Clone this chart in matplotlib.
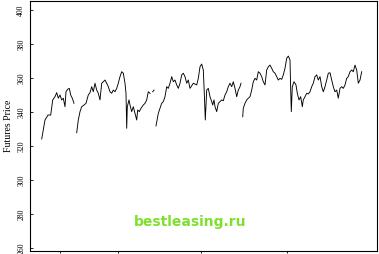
import numpy as np
import matplotlib
matplotlib.use("Agg")
import matplotlib.pyplot as plt

# Trading-day positions and futures prices, one list per contract segment
seg1_x = [41.7, 45, 48, 50.7, 52.7, 55, 56.7, 58.3, 60, 61.7, 63.3, 65, 66, 67.7, 69.3, 70.7, 72.3, 74]
seg1_y = [324.1, 335.3, 338.2, 338.2, 347.1, 349.0, 351.4, 348.1, 350.0, 347.1, 348.1, 343.1, 351.9,
          353.4, 353.9, 350.0, 348.1, 345.1]

seg2_x = [76.7, 78.3, 80, 81.7, 84, 86, 88.3, 90, 91.7, 93.3, 95, 96.7, 98.3, 100, 101.7, 103.3, 105,
          106.7, 108.3, 110, 111.7, 113.3, 115, 116.7, 118.3, 120, 121.7, 123.3, 125, 126, 126.7, 127.3,
          129, 130, 131.7, 133.3, 135, 136.7, 137.7, 139.3, 141, 143.3, 145, 146.7, 148.3, 150]
seg2_y = [327.8, 335.3, 340.2, 343.1, 344.1, 345.1, 350.0, 351.4, 354.9, 351.9, 356.9, 352.9, 351.0,
          347.1, 356.9, 357.8, 358.8, 356.9, 354.9, 351.9, 351.0, 352.9, 351.9, 353.9, 356.9, 360.8,
          363.7, 362.8, 356.9, 351.0, 330.4, 343.1, 347.1, 344.1, 340.2, 343.1, 339.2, 335.3, 341.2,
          340.2, 342.2, 344.1, 345.1, 347.1, 351.9, 351.0]

seg2b_x = [152.7, 154]
seg2b_y = [351.9, 352.9]

seg3_x = [156, 158.3, 160, 161.7, 163.3, 165, 166.7, 168.3, 170, 171.7, 173.3, 175, 176.7, 178.3, 180,
          181.7, 183.3, 185, 186.7, 188.3, 190, 193.3, 196.7, 198.3, 200, 201.7, 203.3, 204.3, 205.3,
          206.7, 208.3, 210, 211.7, 212.7, 214, 215, 216.7, 218.3, 220, 221.7, 223.3, 225, 226.7,
          228.3, 230, 231.7, 233.3, 235, 236.7, 238.3, 240, 241]
seg3_y = [331.8, 339.2, 342.2, 345.1, 346.1, 349.0, 354.9, 353.9, 356.9, 360.8, 357.8, 358.8, 355.9,
          353.9, 356.9, 361.8, 362.8, 360.8, 356.9, 358.8, 353.9, 356.9, 355.9, 359.8, 366.6, 368.2,
          364.7, 351.0, 335.3, 352.9, 353.9, 349.0, 346.1, 344.1, 347.1, 343.1, 340.2, 345.1, 346.1,
          347.1, 346.6, 350.0, 351.9, 354.9, 356.9, 354.9, 357.8, 353.9, 349.0, 352.9, 354.9, 356.9]

seg4_x = [242.7, 243.3, 245, 246.7, 248.3, 250, 251.7, 253.3, 255, 256.7, 258.3, 260, 261.7, 263.3, 265,
          266.7, 268.3, 270, 271.7, 273.3, 275, 276.7, 278.3, 280, 281.7, 283.3, 285, 286.7, 288.3, 290,
          290.7, 291.3, 292.3, 294, 296, 297.3, 299, 300.7, 302.3, 303.3, 305, 306.7, 308.3, 310, 311.7,
          313.3, 315, 316.7, 318.3, 320, 321.7, 323.3, 325, 326.7, 328.3, 330, 331.7, 333.3, 335, 336.7,
          338.3, 340, 341.7, 343.3, 345, 346.7, 348.3, 350, 351.7, 353.3, 355, 356.7, 358.3, 360, 361.7]
seg4_y = [337.2, 342.2, 345.1, 347.1, 348.1, 349.0, 352.9, 357.8, 359.8, 358.8, 363.7, 362.8, 360.8,
          357.8, 355.9, 364.7, 366.6, 367.6, 365.7, 363.7, 362.8, 360.8, 358.8, 359.8, 359.2, 361.8,
          365.7, 371.6, 372.9, 370.6, 352.9, 340.2, 354.9, 357.8, 355.9, 351.0, 347.1, 349.0, 343.1,
          347.1, 349.0, 351.0, 350.6, 351.9, 354.9, 356.9, 360.8, 361.8, 358.8, 360.8, 354.9, 351.9,
          354.9, 358.8, 362.8, 363.1, 358.8, 354.9, 351.9, 352.9, 348.1, 353.9, 354.9, 353.9, 355.9,
          359.8, 360.8, 363.7, 364.7, 363.7, 367.6, 364.7, 356.9, 358.8, 363.7]

y_ticks = [260, 280, 300, 320, 340, 360, 380, 400]
x_ticks = [60, 118, 201, 287]

fig = plt.figure(figsize=(3.79, 2.54), dpi=100)
ax = fig.add_axes([30 / 379, 3 / 254, 347 / 379, 250 / 254])

for xs, ys in [(seg1_x, seg1_y), (seg2_x, seg2_y), (seg2b_x, seg2b_y), (seg3_x, seg3_y), (seg4_x, seg4_y)]:
    ax.plot(xs, ys, color="black", lw=0.65)

ax.set_xlim(30, 377)
ax.set_ylim(258.2, 405.3)
ax.set_yticks(y_ticks)
ax.set_yticklabels([str(v) for v in y_ticks], rotation=90, va="center",
                   fontsize=5.5, family="Liberation Serif")
ax.set_xticks(x_ticks)
ax.set_xticklabels([])
ax.tick_params(axis="y", direction="in", length=2, width=0.6, pad=3.5)
ax.tick_params(axis="x", direction="out", length=1.5, width=0.6)
for s in ax.spines.values():
    s.set_linewidth(0.8)
ax.set_ylabel("Futures Price", fontsize=7, family="Liberation Serif", labelpad=3)

fig.text(190 / 379, 1 - 222 / 254, "bestleasing.ru", color="#7ee02c", fontsize=10,
         fontweight="bold", ha="center", va="center", family="DejaVu Sans")

fig.savefig("out.png", dpi=100)
